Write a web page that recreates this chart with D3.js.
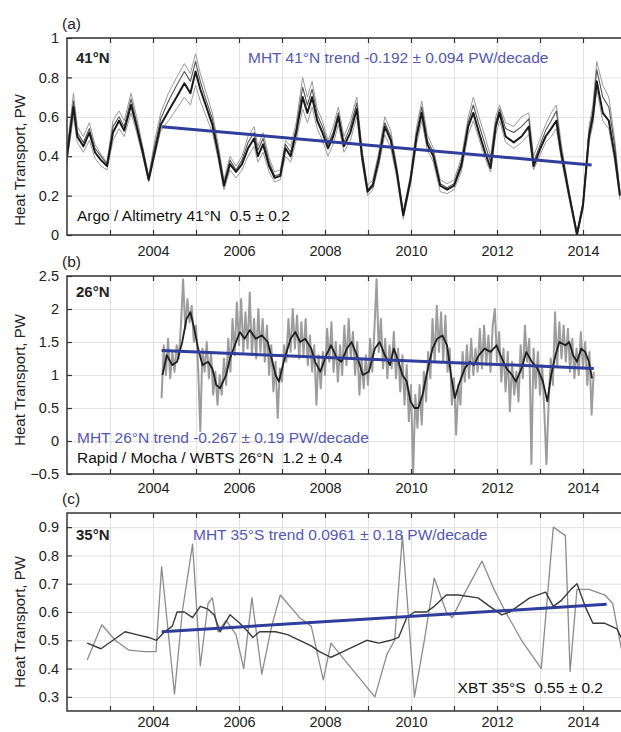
<!DOCTYPE html>
<html><head><meta charset="utf-8">
<script src="https://cdn.jsdelivr.net/npm/d3@7"></script>
<style>
body{margin:0;background:#fff;}
text{font-family:'Liberation Sans',Arial,sans-serif;white-space:pre;}
</style></head>
<body><svg id="c" width="621" height="732"></svg>
<script>
// ---------- DATA ----------
const yearTicks = [2003,2004,2005,2006,2007,2008,2009,2010,2011,2012,2013,2014];
const yearLabels = [2004,2006,2008,2010,2012,2014];

// Panel (a) 41°N Argo / Altimetry
const aYears = [2002.00,2002.15,2002.24,2002.38,2002.52,2002.65,2002.79,2002.93,2003.07,2003.21,2003.33,2003.49,2003.62,2003.76,2003.90,2004.04,2004.18,2004.36,2004.55,2004.73,2004.87,2004.99,2005.10,2005.24,2005.38,2005.51,2005.65,2005.79,2005.93,2006.07,2006.21,2006.35,2006.44,2006.56,2006.70,2006.83,2006.96,2007.08,2007.20,2007.33,2007.48,2007.59,2007.70,2007.82,2007.94,2008.07,2008.19,2008.31,2008.44,2008.59,2008.74,2008.86,2008.99,2009.11,2009.25,2009.39,2009.53,2009.67,2009.82,2009.99,2010.13,2010.25,2010.38,2010.52,2010.68,2010.84,2011.00,2011.17,2011.33,2011.45,2011.58,2011.72,2011.85,2011.97,2012.06,2012.20,2012.39,2012.57,2012.74,2012.85,2012.99,2013.13,2013.26,2013.38,2013.49,2013.68,2013.86,2014.00,2014.14,2014.23,2014.32,2014.46,2014.60,2014.74,2014.86];
const aMain = [0.40,0.65,0.50,0.45,0.52,0.42,0.38,0.35,0.52,0.58,0.53,0.66,0.55,0.42,0.28,0.42,0.56,0.63,0.70,0.77,0.72,0.83,0.74,0.65,0.56,0.42,0.25,0.36,0.32,0.36,0.44,0.49,0.40,0.46,0.35,0.29,0.30,0.44,0.40,0.52,0.70,0.62,0.70,0.58,0.52,0.44,0.50,0.60,0.45,0.52,0.64,0.40,0.22,0.25,0.38,0.55,0.48,0.32,0.10,0.28,0.50,0.62,0.46,0.40,0.25,0.23,0.25,0.35,0.55,0.62,0.52,0.42,0.34,0.55,0.62,0.50,0.47,0.50,0.55,0.35,0.43,0.50,0.54,0.58,0.42,0.20,0.00,0.15,0.50,0.60,0.78,0.62,0.58,0.40,0.20];
const aHigh = [0.44,0.72,0.55,0.50,0.57,0.46,0.41,0.37,0.58,0.63,0.58,0.72,0.60,0.45,0.30,0.48,0.62,0.72,0.80,0.87,0.82,0.92,0.82,0.72,0.62,0.47,0.28,0.40,0.35,0.40,0.50,0.55,0.45,0.52,0.39,0.32,0.33,0.48,0.45,0.57,0.80,0.70,0.78,0.64,0.58,0.48,0.55,0.65,0.50,0.58,0.70,0.44,0.25,0.28,0.42,0.60,0.53,0.35,0.12,0.31,0.55,0.68,0.51,0.44,0.28,0.26,0.28,0.39,0.60,0.70,0.60,0.50,0.40,0.60,0.66,0.57,0.55,0.60,0.62,0.40,0.48,0.56,0.62,0.66,0.47,0.22,0.02,0.17,0.55,0.66,0.88,0.76,0.70,0.48,0.22];
const aMid = [0.42,0.68,0.52,0.47,0.54,0.44,0.40,0.36,0.55,0.60,0.55,0.69,0.57,0.44,0.29,0.45,0.59,0.68,0.76,0.83,0.78,0.88,0.78,0.68,0.59,0.44,0.26,0.38,0.33,0.38,0.47,0.52,0.43,0.49,0.37,0.30,0.31,0.46,0.42,0.54,0.75,0.66,0.74,0.61,0.55,0.46,0.52,0.62,0.47,0.55,0.67,0.42,0.23,0.26,0.40,0.57,0.50,0.33,0.11,0.29,0.52,0.65,0.48,0.42,0.26,0.24,0.26,0.37,0.57,0.66,0.56,0.46,0.37,0.57,0.64,0.54,0.52,0.55,0.59,0.37,0.45,0.53,0.58,0.63,0.44,0.21,0.01,0.16,0.52,0.63,0.84,0.70,0.65,0.45,0.21];
const aLow = [0.37,0.60,0.47,0.42,0.48,0.39,0.35,0.33,0.48,0.54,0.50,0.62,0.52,0.40,0.27,0.40,0.53,0.58,0.64,0.70,0.66,0.76,0.68,0.60,0.52,0.39,0.23,0.33,0.29,0.33,0.40,0.45,0.37,0.42,0.32,0.27,0.28,0.40,0.37,0.48,0.64,0.57,0.65,0.54,0.48,0.40,0.46,0.56,0.42,0.48,0.60,0.37,0.20,0.23,0.35,0.51,0.44,0.29,0.08,0.26,0.46,0.58,0.43,0.37,0.22,0.21,0.23,0.32,0.51,0.58,0.49,0.39,0.32,0.51,0.58,0.47,0.44,0.47,0.51,0.33,0.40,0.47,0.50,0.54,0.39,0.18,0.00,0.13,0.47,0.56,0.74,0.58,0.54,0.37,0.18];
const aTrendYears = [2004.2, 2014.2];
const aTrend = [0.55, 0.355];

// Panel (b) 26°N Rapid / Mocha / WBTS
const bYears = [2004.22,2004.32,2004.45,2004.56,2004.68,2004.78,2004.87,2004.96,2005.05,2005.15,2005.28,2005.38,2005.47,2005.56,2005.70,2005.79,2005.93,2006.02,2006.13,2006.25,2006.39,2006.53,2006.67,2006.76,2006.85,2006.93,2007.04,2007.20,2007.31,2007.42,2007.54,2007.68,2007.77,2007.89,2008.03,2008.14,2008.28,2008.38,2008.51,2008.62,2008.74,2008.88,2009.02,2009.16,2009.27,2009.39,2009.51,2009.60,2009.71,2009.80,2009.90,2009.99,2010.08,2010.17,2010.27,2010.36,2010.50,2010.61,2010.73,2010.84,2010.93,2011.02,2011.11,2011.25,2011.37,2011.46,2011.58,2011.71,2011.85,2011.99,2012.08,2012.22,2012.35,2012.44,2012.57,2012.68,2012.81,2012.94,2013.07,2013.17,2013.26,2013.36,2013.45,2013.59,2013.68,2013.77,2013.86,2013.96,2014.05,2014.14,2014.21];
const bMain = [1.00,1.30,1.15,1.20,1.50,1.85,1.95,1.70,1.40,1.15,1.20,1.10,0.85,0.80,1.00,1.25,1.50,1.65,1.55,1.68,1.55,1.60,1.50,1.25,1.00,0.90,1.20,1.55,1.65,1.50,1.55,1.40,1.20,1.05,1.30,1.45,1.25,1.20,1.40,1.50,1.30,1.00,1.05,1.40,1.50,1.30,1.15,1.40,1.20,1.00,0.90,0.60,0.50,0.50,0.70,1.00,1.40,1.55,1.60,1.45,1.00,0.65,0.85,1.10,1.20,1.15,1.30,1.40,1.35,1.45,1.30,1.10,1.00,0.90,1.10,1.35,1.20,1.10,0.90,0.60,1.00,1.30,1.50,1.45,1.50,1.30,1.20,1.40,1.35,1.20,0.95];
const bRawStart = 2004.20, bRawStep = 0.05; // sampling of the unfiltered record
const bRaw = [0.65,1.45,1.00,1.55,0.95,1.35,1.05,1.45,1.25,1.75,2.45,1.70,2.15,1.80,2.05,1.50,1.75,1.10,0.15,1.40,
1.05,1.50,0.95,1.35,0.70,1.05,0.55,1.00,0.70,1.25,0.85,1.55,1.05,1.85,1.30,2.10,1.45,2.15,1.35,1.95,
1.40,2.25,1.30,1.85,1.25,2.00,1.35,1.85,1.20,1.75,1.00,1.45,0.75,1.20,0.35,1.10,0.90,1.45,1.20,1.85,
1.35,2.00,1.40,1.90,1.25,1.80,1.30,1.85,1.15,1.60,1.05,1.45,0.55,1.30,0.80,1.35,1.00,1.70,1.20,1.80,
1.05,1.50,0.90,1.45,1.00,1.75,1.15,1.85,1.25,1.65,1.00,1.50,0.70,1.25,0.80,1.30,0.85,1.55,1.05,1.70,
2.45,1.35,1.85,1.10,1.55,0.95,1.45,1.10,1.65,0.95,1.40,0.75,1.30,0.55,1.15,0.30,0.85,-0.50,0.70,0.20,
0.85,0.25,1.05,0.60,1.35,0.95,1.85,1.20,2.05,1.35,1.95,1.20,1.90,1.05,1.40,0.55,0.95,0.10,0.85,0.55,
1.35,0.90,1.45,0.95,1.55,1.00,1.40,1.05,1.70,1.10,1.75,1.15,1.60,1.05,1.75,2.00,1.20,1.65,0.90,1.40,
0.75,1.35,0.45,1.20,0.70,1.05,0.60,1.45,0.95,1.75,1.20,1.55,-0.35,1.40,0.80,1.35,0.70,1.15,0.45,-0.35,
0.55,1.25,0.85,1.95,1.15,1.80,1.25,1.75,1.20,1.70,1.05,1.55,0.95,1.40,1.00,1.65,1.10,1.50,0.85,1.35,
0.40,1.05];
const bTrendYears = [2004.2, 2014.25];
const bTrend = [1.37, 1.10];

// Panel (c) 35°S XBT
const cDarkYears = [2002.47,2002.79,2003.07,2003.35,2003.62,2003.90,2004.08,2004.27,2004.45,2004.56,2004.73,2004.92,2005.10,2005.28,2005.42,2005.56,2005.79,2006.02,2006.21,2006.32,2006.48,2006.85,2007.13,2007.41,2007.68,2007.87,2008.14,2008.42,2008.70,2008.97,2009.25,2009.53,2009.71,2009.90,2010.08,2010.36,2010.54,2010.82,2011.10,2011.56,2011.83,2012.11,2012.30,2012.48,2012.76,2013.13,2013.31,2013.49,2013.72,2013.86,2014.05,2014.23,2014.51,2014.79,2014.92];
const cDark = [0.49,0.47,0.50,0.53,0.52,0.51,0.50,0.53,0.55,0.60,0.60,0.58,0.62,0.61,0.59,0.53,0.59,0.56,0.53,0.51,0.53,0.53,0.52,0.50,0.48,0.46,0.44,0.46,0.48,0.50,0.49,0.50,0.51,0.58,0.60,0.60,0.62,0.66,0.66,0.65,0.62,0.59,0.60,0.62,0.65,0.67,0.62,0.64,0.68,0.70,0.62,0.56,0.56,0.54,0.50];
const cGrayYears = [2002.47,2002.81,2003.12,2003.44,2003.81,2004.07,2004.20,2004.50,2004.68,2004.92,2005.10,2005.28,2005.38,2005.51,2005.70,2005.93,2006.11,2006.30,2006.53,2006.76,2006.96,2007.41,2007.68,2007.96,2008.14,2008.51,2009.16,2009.44,2009.62,2009.80,2010.08,2010.31,2010.54,2010.82,2010.96,2011.19,2011.65,2011.93,2012.20,2012.57,2013.03,2013.31,2013.59,2013.70,2013.86,2014.14,2014.51,2014.69,2014.79,2014.92];
const cGray = [0.43,0.555,0.50,0.465,0.46,0.46,0.76,0.31,0.60,0.84,0.41,0.63,0.65,0.53,0.57,0.52,0.40,0.65,0.38,0.55,0.66,0.58,0.55,0.36,0.49,0.42,0.30,0.45,0.50,0.87,0.30,0.50,0.72,0.60,0.58,0.65,0.78,0.68,0.60,0.50,0.40,0.90,0.87,0.39,0.68,0.68,0.66,0.63,0.55,0.45];
const cTrendYears = [2004.2, 2014.55];
const cTrend = [0.53, 0.627];

// ---------- DRAW ----------
const svg = d3.select('#c');
const BLUE = '#2f3d9c', BLUE_TXT = '#5458b0';
const FONT = "'Liberation Sans',Arial,sans-serif";
const x = d3.scaleLinear().domain([2002, 2015]).range([67, 626]);

function panel(id, top, bottom, ydom, yt, ylabFmt, letter, titleY, xPad) {
  const y = d3.scaleLinear().domain(ydom).range([bottom, top]);
  const g = svg.append('g');
  const L = x.range()[0], R = x.range()[1];
  g.append('clipPath').attr('id', 'clip' + id).append('rect')
    .attr('x', L).attr('y', top).attr('width', R - L).attr('height', bottom - top);
  // grid
  const gx = g.append('g').attr('transform', `translate(0,${bottom})`)
    .call(d3.axisBottom(x).tickValues(yearTicks).tickSize(-(bottom - top)).tickFormat(''));
  gx.select('.domain').remove();
  gx.selectAll('line').attr('stroke', '#e2e2e2').attr('stroke-width', 1);
  const gy = g.append('g').attr('transform', `translate(${L},0)`)
    .call(d3.axisLeft(y).tickValues(yt).tickSize(-(R - L)).tickFormat(''));
  gy.select('.domain').remove();
  gy.selectAll('line').attr('stroke', '#e2e2e2').attr('stroke-width', 1);
  const plot = g.append('g').attr('clip-path', `url(#clip${id})`);
  // axes
  const ax = g.append('g').attr('transform', `translate(0,${bottom})`)
    .call(d3.axisBottom(x).tickValues(yearTicks).tickSizeInner(-5).tickSizeOuter(0).tickPadding(xPad)
      .tickFormat(d => yearLabels.includes(d) ? String(d) : ''));
  const at = g.append('g').attr('transform', `translate(0,${top})`)
    .call(d3.axisTop(x).tickValues(yearTicks).tickSizeInner(-5).tickSizeOuter(0).tickFormat(''));
  const al = g.append('g').attr('transform', `translate(${L},0)`)
    .call(d3.axisLeft(y).tickValues(yt).tickSizeInner(-5).tickSizeOuter(0).tickPadding(8).tickFormat(ylabFmt));
  const ar = g.append('g').attr('transform', `translate(${R},0)`)
    .call(d3.axisRight(y).tickValues(yt).tickSizeInner(-5).tickSizeOuter(0).tickFormat(''));
  [ax, at, al, ar].forEach(a => {
    a.select('.domain').remove();
    a.selectAll('line').attr('stroke', '#333').attr('stroke-width', 1.2);
    a.selectAll('text').attr('font-size', 14.5).attr('fill', '#222').style('font-family', FONT);
  });
  g.append('rect').attr('x', L).attr('y', top).attr('width', R - L).attr('height', bottom - top)
    .attr('fill', 'none').attr('stroke', '#333').attr('stroke-width', 1.5);
  g.append('text').attr('x', 62).attr('y', top - 9).attr('font-size', 15.5).attr('fill', '#222').text(letter);
  g.append('text').attr('transform', `translate(25,${titleY}) rotate(-90)`).attr('text-anchor', 'middle')
    .attr('font-size', 15).attr('fill', '#222').text('Heat Transport, PW');
  return { y, plot, g };
}

function line(p, xs, ys, color, width) {
  const pts = ys.map((v, i) => [xs[i], v]).filter(d => d[0] !== undefined);
  p.plot.append('path').datum(pts)
    .attr('d', d3.line().x(d => x(d[0])).y(d => p.y(d[1])))
    .attr('fill', 'none').attr('stroke', color).attr('stroke-width', width)
    .attr('stroke-linejoin', 'round');
}
function label(p, xp, yp, txt, color, opts = {}) {
  const t = p.g.append('text').attr('x', xp).attr('y', yp).attr('font-size', opts.size || 15.5)
    .attr('fill', color).attr('xml:space', 'preserve').text(txt);
  if (opts.bold) t.attr('font-weight', 'bold');
  if (opts.end) t.attr('text-anchor', 'end');
}

// Panel a
const pa = panel('a', 38, 235, [0, 1], [0, 0.2, 0.4, 0.6, 0.8, 1], d => d3.format('~g')(d), '(a)', 160, 11);
line(pa, aYears, aHigh, '#9a9a9a', 1);
line(pa, aYears, aLow, '#9a9a9a', 1);
line(pa, aYears, aMid, '#555', 1.1);
line(pa, aYears, aMain, '#1a1a1a', 2);
line(pa, aTrendYears, aTrend, BLUE, 3);
label(pa, 76, 63, '41°N', '#222', { bold: true, size: 15 });
label(pa, 248, 63, 'MHT 41°N trend -0.192 ± 0.094 PW/decade', BLUE_TXT);
label(pa, 77, 221, 'Argo / Altimetry 41°N  0.5 ± 0.2', '#111');

// Panel b
const pb = panel('b', 276, 474, [-0.5, 2.5], [-0.5, 0, 0.5, 1, 1.5, 2, 2.5], d => d < 0 ? '\u22120.5' : d3.format('~g')(d), '(b)', 380, 9);
line(pb, bRaw.map((v, i) => bRawStart + i * bRawStep), bRaw, '#9c9c9c', 2);
line(pb, bYears, bMain, '#1e1e1e', 1.8);
line(pb, bTrendYears, bTrend, BLUE, 3);
label(pb, 76, 297, '26°N', '#222', { bold: true, size: 15 });
label(pb, 77, 443, 'MHT 26°N trend -0.267 ± 0.19 PW/decade', BLUE_TXT);
label(pb, 77, 463, 'Rapid / Mocha / WBTS 26°N  1.2 ± 0.4', '#111');

// Panel c
const pc = panel('c', 513, 711, [0.25, 0.95], [0.3, 0.4, 0.5, 0.6, 0.7, 0.8, 0.9], d => d3.format('.1f')(d), '(c)', 622, 6);
line(pc, cGrayYears, cGray, '#8c8c8c', 1.3);
line(pc, cDarkYears, cDark, '#3a3a3a', 1.4);
line(pc, cTrendYears, cTrend, BLUE, 3);
label(pc, 76, 540, '35°N', '#222', { bold: true, size: 15 });
label(pc, 193, 540, 'MHT 35°S trend 0.0961 ± 0.18 PW/decade', BLUE_TXT);
label(pc, 603, 693, 'XBT 35°S  0.55 ± 0.2', '#111', { end: true });
</script></body></html>
